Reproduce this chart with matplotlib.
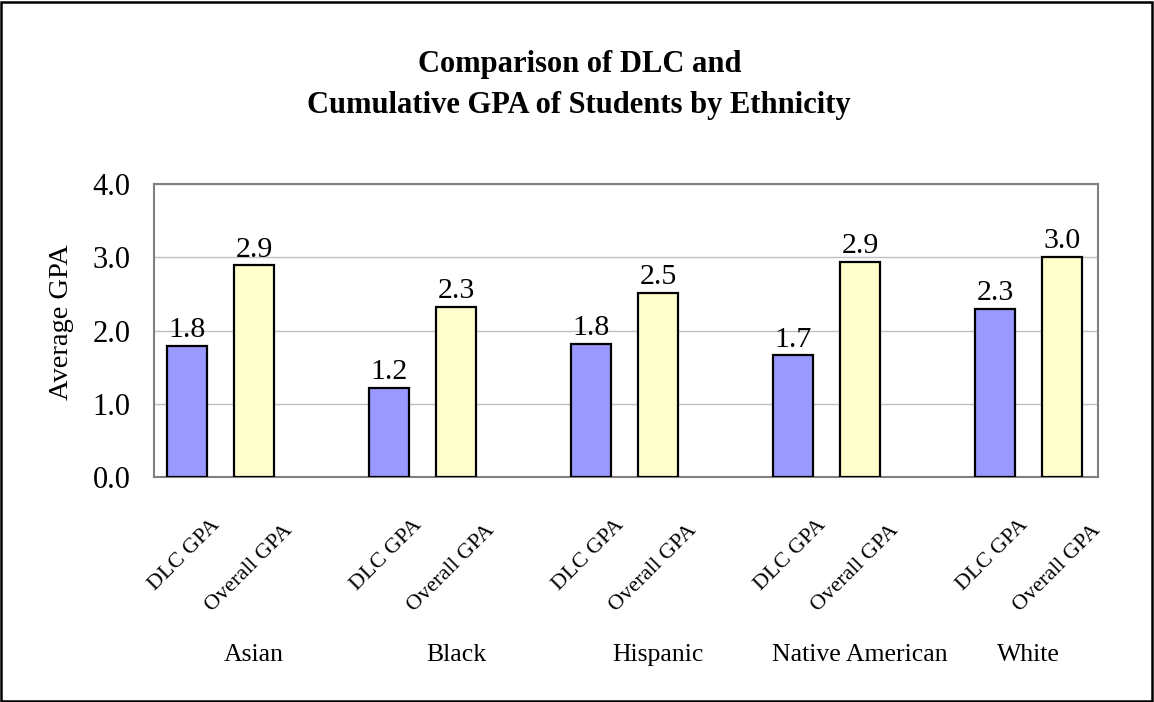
import matplotlib
matplotlib.use("Agg")
import matplotlib.pyplot as plt
import matplotlib.transforms as mtransforms
from matplotlib.patches import Rectangle
import numpy as np

plt.rcParams['font.family'] = ['Liberation Serif', 'DejaVu Serif']

# ---- data ----
groups = ["Asian", "Black", "Hispanic", "Native American", "White"]
series_names = ["DLC GPA", "Overall GPA"]
dlc_gpa = [1.79, 1.22, 1.82, 1.66, 2.29]
overall_gpa = [2.89, 2.32, 2.51, 2.94, 3.00]
yticks = [0.0, 1.0, 2.0, 3.0, 4.0]
title_lines = ["Comparison of DLC and", "Cumulative GPA of Students by Ethnicity"]
ylabel = "Average GPA"

W, H = 1154, 702
fig = plt.figure(figsize=(W / 100, H / 100), dpi=100)
ax = fig.add_axes([154 / W, (H - 477) / H, (1098 - 154) / W, (477 - 184) / H])

x = np.arange(len(groups))
off = 0.332
bw = 0.198
b1 = ax.bar(x, dlc_gpa, bw, color="#9999FF", edgecolor="black", linewidth=1.6, zorder=3)
b2 = ax.bar(x + off, overall_gpa, bw, color="#FFFFCC", edgecolor="black", linewidth=1.6, zorder=3)

ax.set_xlim(-0.1636, 4.5105)
ax.set_ylim(0, 4.0)
ax.set_yticks(yticks)
ax.set_yticklabels([f"{v:.1f}" for v in yticks], fontsize=22)
ax.tick_params(axis='y', length=0, pad=17)
ax.set_xticks([])
ax.grid(axis='y', color='#c0c0c0', linewidth=1.0, zorder=0)
for s in ax.spines.values():
    s.set_color('#808080')
    s.set_linewidth(1.5)

# value labels
for bars, vals in ((b1, dlc_gpa), (b2, overall_gpa)):
    for rect, v in zip(bars, vals):
        ax.annotate(f"{v:.1f}", (rect.get_x() + rect.get_width() / 2, v),
                    xytext=(0, 2), textcoords='offset points',
                    ha='center', va='bottom', fontsize=21.5, zorder=4)

# category labels
trans = mtransforms.blended_transform_factory(ax.transData, ax.transAxes)
for i in range(len(groups)):
    ax.text(x[i] - 0.012, -0.266, series_names[0], rotation=45, ha='center', va='center',
            fontsize=16, transform=trans, clip_on=False)
    ax.text(x[i] + off - 0.025, -0.311, series_names[1], rotation=45, ha='center', va='center',
            fontsize=16, transform=trans, clip_on=False)
group_shift = [off, off, off, off, off / 2]
for i, g in enumerate(groups):
    ax.text(x[i] + group_shift[i], -0.628, g, ha='center', va='baseline',
            fontsize=18.5, transform=trans, clip_on=False)

# y label
fig.text(61 / W, (H - 322.5) / H, ylabel, rotation=90, ha='center', va='center', fontsize=20.5)

# title
fig.text(0.502, (H - 72) / H, title_lines[0], ha='center', va='baseline', fontsize=22, fontweight='bold')
fig.text(0.502, (H - 113) / H, title_lines[1], ha='center', va='baseline', fontsize=22, fontweight='bold')

# outer border
fig.patches.append(Rectangle((1 / W, 1 / H), 1 - 3 / W, 1 - 3 / H, transform=fig.transFigure,
                             fill=False, edgecolor='black', linewidth=1.8))

fig.savefig("out.png", dpi=100)
